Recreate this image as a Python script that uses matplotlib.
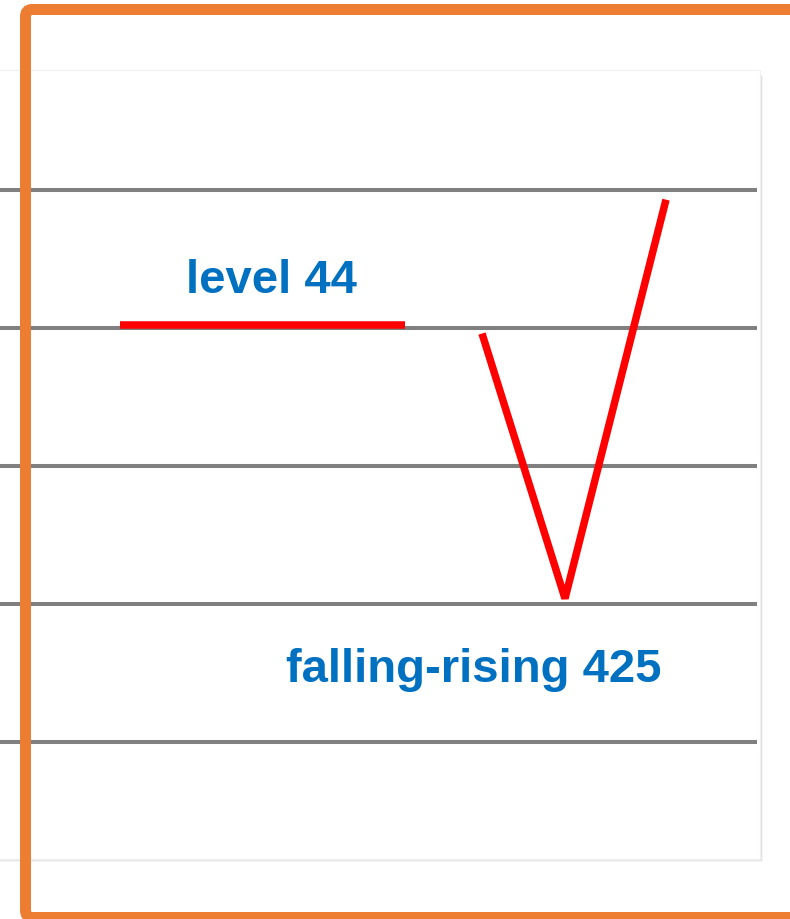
import matplotlib.pyplot as plt
from matplotlib.patches import FancyBboxPatch, Rectangle

# tone scale (Chao numbers) drawn as horizontal staff lines
levels = [1, 2, 3, 4, 5]

# contours: x positions along a nominal time axis, y in tone levels
level_x = [120, 405]
level_y = [4.02, 4.02]
level_label = "level 44"

fr_x = [482, 565, 666]
fr_y = [3.96, 2.04, 4.93]
fr_label = "falling-rising 425"

W, H = 790, 920
fig = plt.figure(figsize=(W / 100, H / 100), dpi=100)
fig.patch.set_facecolor("white")

# panel shadow + panel
for k, a in enumerate([0.04, 0.07, 0.10]):
    off = 3 - k
    fig.patches.append(Rectangle((-10 / W, (H - 860 - off) / H), (770 + off) / W, (860 - 74) / H,
                                 transform=fig.transFigure, facecolor="black", alpha=a,
                                 edgecolor="none", zorder=0))
fig.patches.append(Rectangle((-10 / W, (H - 860) / H), 770 / W, (860 - 71) / H,
                             transform=fig.transFigure, facecolor="white",
                             edgecolor="#f0f0f0", lw=0.8, zorder=0.5))

# y: pixel ~189 -> 5, pixel ~741 -> 1
step = 138.0
top = 191
ax = fig.add_axes([0, 0, 1, 1])
ax.set_zorder(2)
ax.set_xlim(0, W)
ax.set_ylim(5 - (H - top) / step, 5 + top / step)
ax.axis("off")
ax.patch.set_alpha(0)

for lv in levels:
    ax.plot([0, 757], [lv, lv], color="#808080", lw=2.9, solid_capstyle="butt", zorder=2)

ax.plot(level_x, level_y, color="#ff0000", lw=5.4, solid_capstyle="butt", zorder=3)
ax.plot(fr_x, fr_y, color="#ff0000", lw=5.4, solid_capstyle="butt",
        solid_joinstyle="bevel", zorder=3)

font = dict(family=["Liberation Sans", "DejaVu Sans"], fontsize=34, fontweight="bold",
            color="#0070c0")
ax.text(sum(level_x) / 2 + 9, level_y[0] + 0.33, level_label, ha="center", va="center", **font)
ax.text(474, 1.53, fr_label, ha="center", va="center", **font)

# orange frame, drawn on top
frame = FancyBboxPatch((25.5 / W, (H - 918.5) / H), 900 / W, (918.5 - 10.5) / H,
                       boxstyle="round,pad=0,rounding_size=0.008",
                       transform=fig.transFigure, facecolor="none",
                       edgecolor="#ed7d31", lw=7.9, zorder=5)
frame_ax = fig.add_axes([0, 0, 1, 1])
frame_ax.set_zorder(3)
frame_ax.axis("off")
frame_ax.patch.set_alpha(0)
frame_ax.add_patch(frame)

fig.savefig("out.png", dpi=100)
